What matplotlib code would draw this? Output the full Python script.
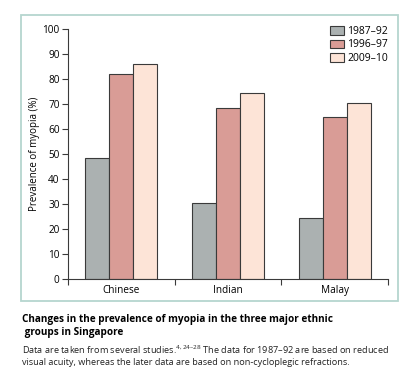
import numpy as np
import matplotlib.pyplot as plt
from matplotlib.patches import Rectangle

# --- Data -------------------------------------------------------------------
GROUPS = ["Chinese", "Indian", "Malay"]
PERIODS = ["1987\u201392", "1996\u201397", "2009\u201310"]
PREV_1987 = [48.5, 30.5, 24.5]
PREV_1996 = [82.0, 68.5, 65.0]
PREV_2009 = [86.0, 74.5, 70.5]

COLORS = ["#abb1b1", "#d99c96", "#fde4d7"]
EDGE = "#3a3a3a"

plt.rcParams["font.family"] = ["Open Sans", "DejaVu Sans"]
plt.rcParams["mathtext.fontset"] = "custom"
plt.rcParams["mathtext.rm"] = "Open Sans"


def main():
    fig = plt.figure(figsize=(4.2, 3.89), dpi=100)

    # light frame around the figure panel
    fig.patches.append(Rectangle((21 / 420, 1 - 301 / 389), 377 / 420, 286 / 389,
                                 transform=fig.transFigure, fill=False,
                                 edgecolor="#b5d6cf", linewidth=1.3))

    ax = fig.add_axes([68 / 420, 1 - 279 / 389, 320 / 420, 250 / 389])

    x = np.arange(len(GROUPS))
    w = 0.224
    series = [PREV_1987, PREV_1996, PREV_2009]
    for i, (vals, col, lab) in enumerate(zip(series, COLORS, PERIODS)):
        ax.bar(x + (i - 1) * w, vals, width=w, color=col, edgecolor=EDGE,
               linewidth=0.8, label=lab)

    ax.set_xlim(-0.5, 2.5)
    ax.set_ylim(0, 100)
    ax.set_yticks(range(0, 101, 10))
    ax.set_xticks([-0.5, 0.5, 1.5, 2.5])
    ax.set_xticklabels([])
    ax.set_xticks(x, minor=True)
    ax.set_xticklabels(GROUPS, minor=True)
    ax.tick_params(axis="x", which="minor", length=0, labelsize=7.2, pad=4)
    ax.tick_params(axis="x", which="major", length=4, width=0.8, color=EDGE)
    ax.tick_params(axis="y", length=4, width=0.8, color=EDGE, labelsize=7.2, pad=2)
    for side in ["top", "right"]:
        ax.spines[side].set_visible(False)
    for side in ["left", "bottom"]:
        ax.spines[side].set_color(EDGE)
        ax.spines[side].set_linewidth(0.8)

    ax.set_ylabel("Prevalence of myopia (%)", fontsize=7, labelpad=2)

    ax.legend(loc="upper right", bbox_to_anchor=(1.03, 1.05), frameon=False,
              fontsize=7.5, handlelength=1.3, handleheight=0.9,
              handletextpad=0.35, labelspacing=0.25)

    # caption
    fig.text(22 / 420, 1 - 326 / 389,
             "Changes in the prevalence of myopia in the three major ethnic\n groups in Singapore",
             fontsize=7.2, fontweight="bold", va="center", linespacing=1.15)
    fig.text(22 / 420, 1 - 355 / 389,
             "Data are taken from several studies.$^{4,24\u201328}$ The data for 1987\u201392 are based on reduced\n"
             "visual acuity, whereas the later data are based on non-cycloplegic refractions.",
             fontsize=6.6, va="center", linespacing=1.3, color="#222222")

    fig.savefig("out.png", dpi=100)


if __name__ == "__main__":
    main()
